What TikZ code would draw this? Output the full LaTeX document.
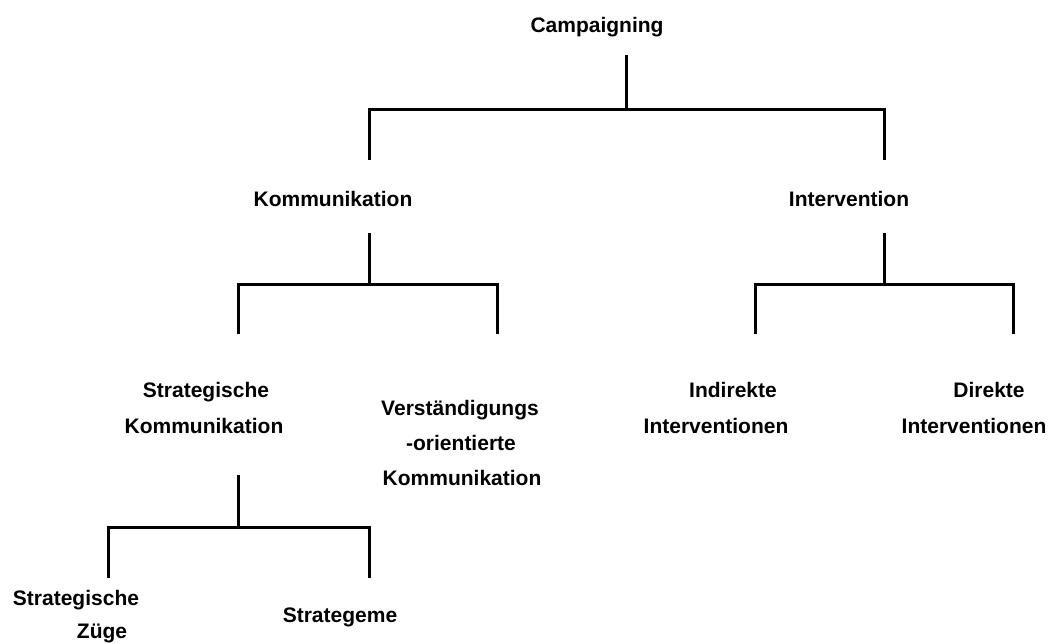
\documentclass[tikz,border=0pt]{standalone}
\usepackage{fontspec}
\setmainfont{Liberation Sans}
\begin{document}
\begin{tikzpicture}[x=1pt,y=-1pt,
  label/.style={font=\fontsize{21}{25}\selectfont\bfseries, inner sep=0pt, anchor=base},
  branch/.style={line width=3pt, line join=miter, line cap=butt}]
\useasboundingbox (0,0) rectangle (1049,643);

% --- labels (one node per printed line) ---
\node[label] (camp) at (597,32) {Campaigning};
\node[label] (kom) at (333,206) {Kommunikation};
\node[label] (int) at (849,206) {Intervention};
\node[label] (stk1) at (206,397) {Strategische};
\node[label] (stk2) at (204,433) {Kommunikation};
\node[label] (vok1) at (460,415) {Verständigungs};
\node[label] (vok2) at (461,450) {-orientierte};
\node[label] (vok3) at (462,485) {Kommunikation};
\node[label] (ind1) at (733,397) {Indirekte};
\node[label] (ind2) at (716,433) {Interventionen};
\node[label] (dir1) at (989,397) {Direkte};
\node[label] (dir2) at (974,433) {Interventionen};
\node[label] (sz1) at (76,605) {Strategische};
\node[label] (sz2) at (102,638) {Züge};
\node[label] (stg) at (340,622) {Strategeme};

% --- bracket points ---
\coordinate (camp-stem) at (626,55);
\coordinate (camp-join) at (626,109);
\coordinate (kom-drop) at (369,160);
\coordinate (int-drop) at (884,160);

\coordinate (kom-stem) at (369,233);
\coordinate (kom-join) at (369,284);
\coordinate (stk-drop) at (238,334);
\coordinate (vok-drop) at (497,334);

\coordinate (int-stem) at (884,233);
\coordinate (int-join) at (884,284);
\coordinate (ind-drop) at (755,334);
\coordinate (dir-drop) at (1013,334);

\coordinate (stk-stem) at (238,475);
\coordinate (stk-join) at (238,527);
\coordinate (sz-drop) at (108,578);
\coordinate (stg-drop) at (369,578);

% --- tree brackets ---
\draw[branch] (camp-stem) -- (camp-join);
\draw[branch] (kom-drop) |- (camp-join) -| (int-drop);

\draw[branch] (kom-stem) -- (kom-join);
\draw[branch] (stk-drop) |- (kom-join) -| (vok-drop);

\draw[branch] (int-stem) -- (int-join);
\draw[branch] (ind-drop) |- (int-join) -| (dir-drop);

\draw[branch] (stk-stem) -- (stk-join);
\draw[branch] (sz-drop) |- (stk-join) -| (stg-drop);
\end{tikzpicture}
\end{document}
